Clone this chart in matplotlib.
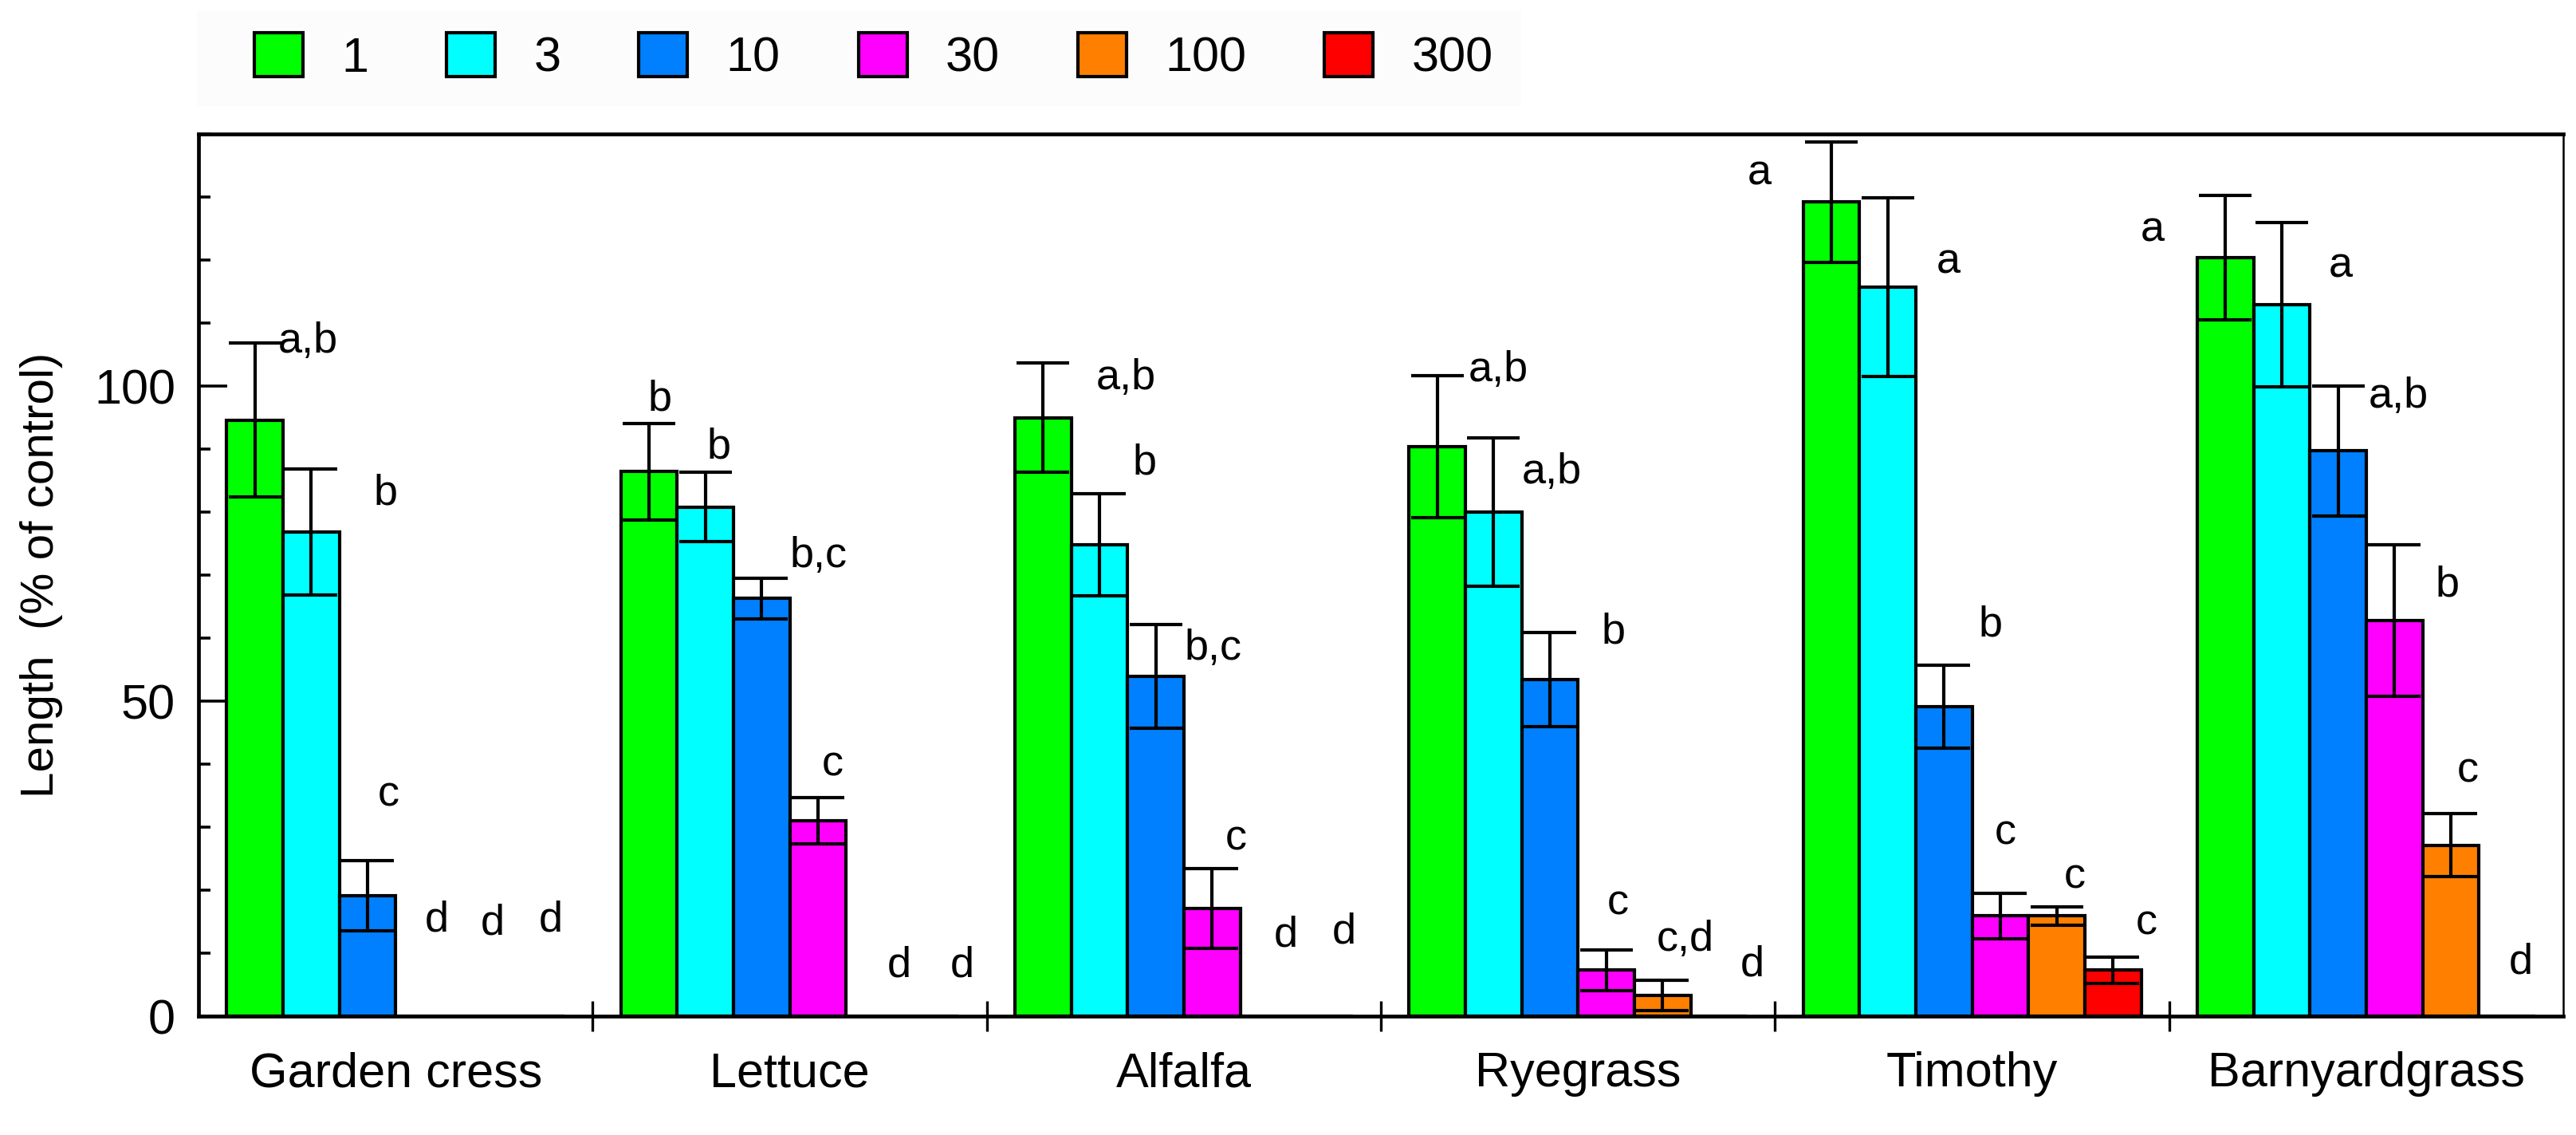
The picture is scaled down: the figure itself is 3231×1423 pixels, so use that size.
"""Root length (% of control) by species and concentration, grouped bar chart."""

import numpy as np
import matplotlib

matplotlib.use("Agg")
import matplotlib.pyplot as plt
from matplotlib.patches import Patch, Rectangle
from matplotlib.ticker import MultipleLocator, FixedLocator

plt.rcParams["font.family"] = ["Liberation Sans", "DejaVu Sans"]

# --- data ---------------------------------------------------------------
species = ["Garden cress", "Lettuce", "Alfalfa", "Ryegrass", "Timothy", "Barnyardgrass"]
doses = ["1", "3", "10", "30", "100", "300"]

len_1 = [94.6, 86.4, 95.0, 90.4, 129.2, 120.4]
len_3 = [76.9, 80.8, 74.8, 80.0, 115.7, 112.9]
len_10 = [19.1, 66.3, 53.9, 53.4, 49.1, 89.7]
len_30 = [0.0, 31.0, 17.1, 7.3, 15.9, 62.8]
len_100 = [0.0, 0.0, 0.0, 3.3, 15.9, 27.1]
len_300 = [0.0, 0.0, 0.0, 0.0, 7.3, 0.0]

err_1 = [12.2, 7.7, 8.7, 11.3, 9.6, 9.9]
err_3 = [10.0, 5.5, 8.1, 11.8, 14.2, 13.0]
err_10 = [5.6, 3.2, 8.2, 7.5, 6.6, 10.3]
err_30 = [0.0, 3.7, 6.3, 3.2, 3.6, 12.0]
err_100 = [0.0, 0.0, 0.0, 2.4, 1.5, 5.0]
err_300 = [0.0, 0.0, 0.0, 0.0, 2.1, 0.0]

sig_1 = ["a,b", "b", "a,b", "a,b", "a", "a"]
sig_3 = ["b", "b", "b", "a,b", "a", "a"]
sig_10 = ["c", "b,c", "b,c", "b", "b", "a,b"]
sig_30 = ["d", "c", "c", "c", "c", "b"]
sig_100 = ["d", "d", "d", "c,d", "c", "c"]
sig_300 = ["d", "d", "d", "d", "c", "d"]

# --- layout / style -----------------------------------------------------
colors = ["#00ff00", "#00ffff", "#0080ff", "#ff00ff", "#ff8000", "#ff0000"]

# letter placement relative to bar centre (x) and to the error-bar top (y)
sig_dx = [
    [0.134, 0.028, 0.210, 0.155, -0.183, -0.185],
    [0.189, 0.035, 0.115, 0.147, 0.153, 0.150],
    [0.054, 0.145, 0.146, 0.160, 0.117, 0.153],
    [0.032, 0.037, 0.060, 0.030, 0.013, 0.134],
    [0.032, 0.064, 0.045, 0.057, 0.045, 0.043],
    [0.037, 0.081, 0.050, 0.084, 0.086, 0.034],
]
sig_dy = [
    [0.3, 3.8, -2.4, 0.8, -5.1, -5.5],
    [-3.9, 4.0, 4.9, -5.5, -10.2, -6.9],
    [10.4, 3.5, -3.7, 0.0, 6.4, -1.7],
    [15.2, 5.3, 4.8, 7.4, 9.6, -6.4],
    [14.7, 8.0, 12.8, 6.5, 4.7, 6.8],
    [15.2, 8.0, 13.3, 8.2, 5.3, 8.6],
]


def main() -> None:
    values = [len_1, len_3, len_10, len_30, len_100, len_300]
    errors = [err_1, err_3, err_10, err_30, err_100, err_300]
    letters = [sig_1, sig_3, sig_10, sig_30, sig_100, sig_300]

    fig = plt.figure(figsize=(32.31, 14.23), dpi=100)
    ax = fig.add_axes([0.0771, 0.1047, 0.918, 0.7772])

    n_groups = len(species)
    width = 1.0 / 7.0
    groups = np.arange(n_groups)

    for j, (vals, errs, sigs) in enumerate(zip(values, errors, letters)):
        x = groups - 0.5 + (j + 1) * width
        vals = np.asarray(vals)
        errs = np.asarray(errs)
        ax.bar(x, vals, width=width, color=colors[j], edgecolor="black",
               linewidth=3.0, zorder=2)
        has = vals > 0
        ax.errorbar(x[has], vals[has], yerr=errs[has], fmt="none",
                    ecolor="black", elinewidth=3.0, capsize=24, capthick=3.0,
                    zorder=3)
        for k in range(n_groups):
            ax.text(x[k] + sig_dx[j][k], vals[k] + errs[k] + sig_dy[j][k],
                    sigs[k], ha="center", va="center", fontsize=39)

    ax.set_xlim(-0.5, n_groups - 0.5)
    ax.set_ylim(0, 140)

    # x axis: names at group centres, separator ticks between groups
    ax.xaxis.remove_overlapping_locs = False
    ax.set_xticks(groups)
    ax.set_xticklabels(species, fontsize=44)
    ax.xaxis.set_minor_locator(FixedLocator(groups[:-1] + 0.5))
    ax.tick_params(axis="x", which="major", length=0, pad=32)
    ax.tick_params(axis="x", which="minor", direction="inout", length=28, width=2.4)

    # y axis
    ax.set_yticks([0, 50, 100])
    ax.yaxis.set_minor_locator(MultipleLocator(10))
    ax.tick_params(axis="y", which="major", direction="in", length=26, width=2.6,
                   labelsize=44, pad=21)
    ax.tick_params(axis="y", which="minor", direction="in", length=11, width=2.6)
    ax.set_ylabel("Length  (% of control)", fontsize=42, labelpad=28)

    for side in ["left", "top", "bottom"]:
        ax.spines[side].set_linewidth(3.4)
    ax.spines["right"].set_linewidth(1.8)

    # legend strip above the plot
    fig.patches.append(Rectangle((0.0764, 0.9065), 0.514, 0.0843,
                                 transform=fig.transFigure, facecolor="#fcfcfc",
                                 edgecolor="none", zorder=0))
    handles = [Patch(facecolor=c, edgecolor="black", linewidth=3.0) for c in colors]
    fig.legend(handles, doses, ncol=len(doses), loc="center left",
               bbox_to_anchor=(0.0987, 0.9494), frameon=False, fontsize=44,
               handlelength=1.0, handleheight=1.0, handletextpad=0.79,
               columnspacing=1.6, borderpad=0, borderaxespad=0)

    fig.savefig("out.png", dpi=100, facecolor="white")


if __name__ == "__main__":
    main()
